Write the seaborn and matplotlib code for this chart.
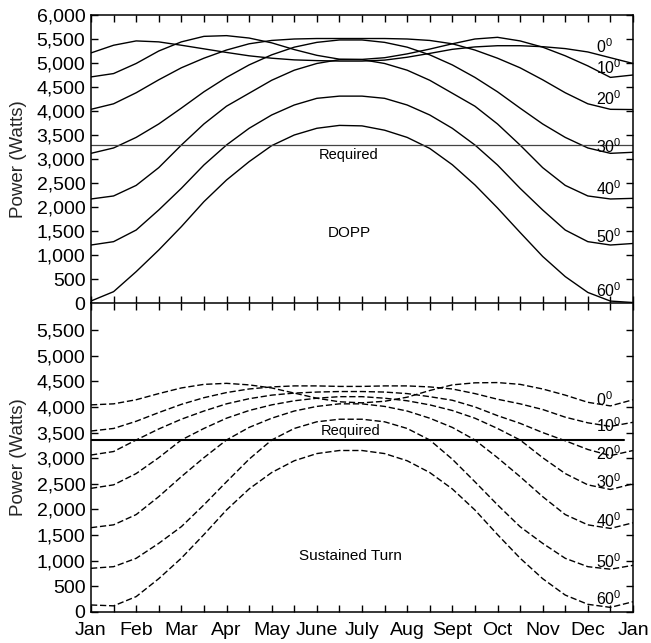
import numpy as np
import pandas as pd
import matplotlib
matplotlib.use("Agg")
import matplotlib.pyplot as plt
import seaborn as sns
from matplotlib.ticker import MultipleLocator, FuncFormatter

# ---------------- data ----------------
MONTH_POS = [0, 0.5, 1, 1.5, 2, 2.5, 3, 3.5, 4, 4.5, 5, 5.5, 6,
             6.5, 7, 7.5, 8, 8.5, 9, 9.5, 10, 10.5, 11, 11.5, 12]
MONTH_LABELS = ["Jan", "Feb", "Mar", "Apr", "May", "June", "July",
                "Aug", "Sept", "Oct", "Nov", "Dec", "Jan"]
LATITUDES = [0, 10, 20, 30, 40, 50, 60]

# DOPP (top panel), Watts at half-month steps
DOPP_0 = [5210, 5370, 5460, 5440, 5370, 5295, 5220, 5150, 5100, 5065, 5050, 5040, 5040,
          5060, 5120, 5200, 5285, 5335, 5360, 5360, 5340, 5300, 5230, 5110, 4990]
DOPP_10 = [4710, 4780, 4990, 5250, 5440, 5555, 5570, 5520, 5420, 5280, 5160, 5080, 5075,
           5110, 5190, 5290, 5400, 5500, 5535, 5460, 5330, 5150, 4940, 4700, 4750]
DOPP_20 = [4035, 4150, 4380, 4650, 4900, 5100, 5270, 5400, 5470, 5500, 5510, 5510, 5510,
           5510, 5500, 5470, 5400, 5270, 5100, 4900, 4650, 4380, 4150, 4035, 4030]
DOPP_30 = [3118, 3230, 3450, 3730, 4060, 4400, 4700, 4960, 5170, 5330, 5430, 5480, 5480,
           5430, 5330, 5170, 4960, 4700, 4400, 4060, 3730, 3450, 3230, 3118, 3140]
DOPP_40 = [2167, 2230, 2450, 2820, 3290, 3730, 4100, 4370, 4640, 4850, 4990, 5070, 5070,
           4990, 4850, 4640, 4370, 4100, 3730, 3290, 2820, 2450, 2230, 2167, 2180]
DOPP_50 = [1208, 1278, 1520, 1938, 2389, 2875, 3292, 3639, 3917, 4125, 4264, 4310, 4310,
           4264, 4125, 3917, 3639, 3292, 2875, 2389, 1938, 1520, 1278, 1208, 1240]
DOPP_60 = [42, 236, 653, 1104, 1590, 2111, 2562, 2944, 3278, 3500, 3640, 3700, 3690,
           3600, 3450, 3220, 2880, 2460, 1980, 1470, 970, 550, 220, 40, 10]
DOPP_REQUIRED = 3290

# Sustained Turn (bottom panel)
TURN_0 = [4040, 4060, 4140, 4260, 4370, 4440, 4460, 4430, 4370, 4270, 4170, 4100, 4080,
          4110, 4190, 4320, 4430, 4470, 4475, 4440, 4350, 4230, 4090, 4020, 4140]
TURN_10 = [3530, 3580, 3720, 3890, 4050, 4180, 4280, 4350, 4390, 4410, 4410, 4400, 4400,
           4410, 4410, 4390, 4350, 4260, 4150, 4060, 3950, 3800, 3690, 3620, 3700]
TURN_20 = [3062, 3130, 3355, 3570, 3760, 3920, 4060, 4160, 4230, 4270, 4290, 4300, 4300,
           4290, 4260, 4200, 4130, 4000, 3830, 3680, 3500, 3340, 3170, 3050, 3150]
TURN_30 = [2412, 2480, 2700, 3010, 3355, 3580, 3780, 3930, 4040, 4120, 4170, 4200, 4200,
           4170, 4120, 4040, 3930, 3780, 3580, 3355, 3010, 2700, 2480, 2390, 2500]
TURN_40 = [1645, 1700, 1900, 2250, 2640, 3010, 3355, 3600, 3780, 3920, 4010, 4060, 4060,
           4010, 3920, 3780, 3600, 3355, 3010, 2640, 2250, 1900, 1700, 1630, 1740]
TURN_50 = [852, 884, 1047, 1339, 1664, 2090, 2540, 2980, 3355, 3580, 3710, 3760, 3760,
           3710, 3580, 3355, 2980, 2540, 2090, 1664, 1339, 1047, 884, 835, 910]
TURN_60 = [137, 120, 300, 650, 1050, 1510, 1990, 2400, 2720, 2950, 3090, 3150, 3150,
           3090, 2950, 2720, 2400, 1990, 1510, 1050, 650, 330, 150, 90, 200]
TURN_REQUIRED = 3360

DOPP = [DOPP_0, DOPP_10, DOPP_20, DOPP_30, DOPP_40, DOPP_50, DOPP_60]
TURN = [TURN_0, TURN_10, TURN_20, TURN_30, TURN_40, TURN_50, TURN_60]


def long_df(series_list):
    rows = []
    for lat, vals in zip(LATITUDES, series_list):
        for m, v in zip(MONTH_POS, vals):
            rows.append({"month": m, "power": v, "lat": lat})
    return pd.DataFrame(rows)


# ---------------- style ----------------
sns.set_theme(style="white")
plt.rcParams.update({
    "font.family": ["Liberation Sans", "DejaVu Sans"],
    "mathtext.fontset": "custom",
    "mathtext.rm": "Liberation Sans",
    "mathtext.it": "Liberation Sans:italic",
    "mathtext.bf": "Liberation Sans:bold",
    "axes.edgecolor": "black",
    "axes.linewidth": 1.1,
    "text.color": "black",
    "xtick.color": "black",
    "ytick.color": "black",
})

W, H = 651, 643
fig = plt.figure(figsize=(W / 100, H / 100), dpi=100)
fig.patch.set_facecolor("white")
ax1 = fig.add_axes([91 / W, 1 - 303 / H, 542 / W, 288 / H])
ax2 = fig.add_axes([91 / W, 1 - 612 / H, 542 / W, 309 / H])

sns.lineplot(data=long_df(DOPP), x="month", y="power", units="lat", estimator=None,
             color="black", lw=1.0, ax=ax1, legend=False)
sns.lineplot(data=long_df(TURN), x="month", y="power", units="lat", estimator=None,
             color="black", lw=1.0, ax=ax2, legend=False, linestyle=(0, (4.5, 2)))

ax1.axhline(DOPP_REQUIRED, color="#444444", lw=0.9)
ax2.plot([0, 11.8], [TURN_REQUIRED, TURN_REQUIRED], color="black", lw=1.5)

fmt = FuncFormatter(lambda v, p: f"{int(v):,}")
for ax in (ax1, ax2):
    ax.set_xlim(0, 12)
    ax.xaxis.set_major_locator(MultipleLocator(1))
    ax.xaxis.set_minor_locator(MultipleLocator(0.5))
    ax.yaxis.set_major_locator(MultipleLocator(500))
    ax.yaxis.set_major_formatter(fmt)
    ax.tick_params(which="both", direction="in", top=True, bottom=True,
                   left=True, right=True, length=5, width=1.0)
    ax.tick_params(axis="y", labelsize=14, pad=4)
    ax.tick_params(axis="x", labelsize=14, pad=7)
    ax.set_xlabel("")
    ax.set_ylabel("Power (Watts)", fontsize=13.5, va="center")
    ax.yaxis.set_label_coords(-0.133, 0.5)
    for s in ax.spines.values():
        s.set_visible(True)
        s.set_color("black")

ax1.set_ylim(0, 6000)
ax1.spines["bottom"].set_visible(False)
ax1.tick_params(axis="x", labelbottom=False)

ax2.set_ylim(0, 6027)
ax2.set_yticks(list(range(0, 5501, 500)))
ax2.set_xticks(list(range(0, 13)))
ax2.set_xticklabels(MONTH_LABELS)

# curve labels
top_lab_y = [5200, 4770, 4125, 3125, 2250, 1250, 125]
bot_lab_y = [4018, 3517, 2965, 2413, 1664, 852, 137]
for lat, yt, yb in zip(LATITUDES, top_lab_y, bot_lab_y):
    lbl = f"${lat}^{{0}}$"
    ax1.text(11.17, yt, lbl, fontsize=11.5, ha="left", va="baseline")
    ax2.text(11.17, yb, lbl, fontsize=11.5, ha="left", va="baseline")

ax1.text(5.70, 3225, "Required", fontsize=10.5, ha="center", va="top")
ax1.text(5.72, 1458, "DOPP", fontsize=11, ha="center", va="center")
ax2.text(5.75, 3400, "Required", fontsize=10.5, ha="center", va="bottom")
ax2.text(5.75, 1092, "Sustained Turn", fontsize=11, ha="center", va="center")

fig.savefig("out.png", dpi=100, facecolor="white")
